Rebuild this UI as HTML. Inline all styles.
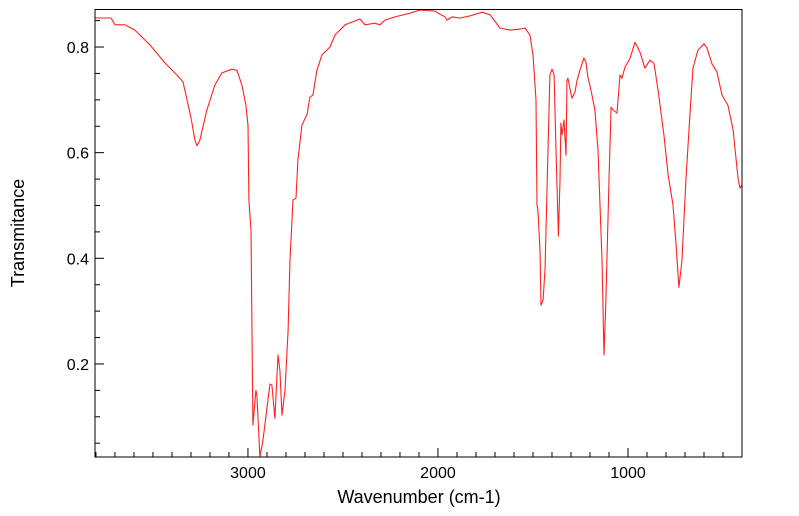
<!DOCTYPE html>
<html><head><meta charset="utf-8"><style>
html,body{margin:0;padding:0;background:#fff;width:799px;height:516px;overflow:hidden}
svg text{font-family:"Liberation Sans",sans-serif;fill:#000}
</style></head><body>
<svg id="chart" width="799" height="516" xmlns="http://www.w3.org/2000/svg">
<g id="axes"></g>
<path id="series" fill="none" stroke="#ff2020" stroke-width="1.1" stroke-linejoin="round"/>
<rect x="95" y="9.5" width="647" height="447.5" fill="none" stroke="#000" stroke-width="1"/>
<text x="419" y="503" font-size="18" text-anchor="middle">Wavenumber (cm-1)</text>
<text transform="translate(24,233) rotate(-90)" font-size="18" text-anchor="middle">Transmitance</text>
</svg>
<script>
const wavenumbers = [3805,3721,3700,3647,3595,3516,3437,3374,3342,3321,3300,3279,3268,3253,3216,3174,3137,3084,3058,3032,3011,3000,2995,2984,2974,2958,2953,2937,2921,2895,2884,2874,2858,2842,2832,2821,2805,2789,2779,2763,2747,2737,2716,2689,2674,2658,2637,2611,2568,2542,2489,2411,2384,2332,2305,2279,2226,2147,2095,2016,1989,1963,1953,1926,1884,1832,1768,1726,1674,1621,1568,1542,1516,1500,1484,1479,1474,1463,1458,1447,1437,1421,1411,1400,1389,1379,1368,1366,1358,1353,1347,1337,1326,1321,1316,1295,1279,1268,1253,1232,1221,1211,1195,1174,1158,1137,1126,1116,1100,1089,1079,1058,1042,1032,1016,989,963,937,911,884,863,842,811,789,763,747,732,716,695,674,658,632,600,584,558,532,505,474,447,421,411,400];
const transmittance = [0.855,0.855,0.842,0.842,0.832,0.804,0.770,0.747,0.734,0.700,0.666,0.624,0.613,0.624,0.681,0.728,0.751,0.758,0.756,0.728,0.690,0.652,0.510,0.453,0.084,0.150,0.141,0.023,0.056,0.131,0.162,0.160,0.097,0.217,0.188,0.103,0.150,0.264,0.397,0.510,0.514,0.586,0.652,0.673,0.705,0.709,0.756,0.785,0.800,0.823,0.842,0.853,0.842,0.845,0.842,0.851,0.857,0.864,0.870,0.868,0.862,0.857,0.851,0.857,0.855,0.859,0.866,0.861,0.836,0.832,0.834,0.836,0.823,0.785,0.700,0.501,0.491,0.416,0.311,0.321,0.378,0.605,0.747,0.758,0.747,0.605,0.463,0.442,0.548,0.656,0.634,0.662,0.595,0.737,0.741,0.703,0.715,0.737,0.756,0.779,0.771,0.743,0.719,0.681,0.605,0.397,0.217,0.321,0.548,0.686,0.681,0.675,0.747,0.741,0.762,0.779,0.809,0.790,0.760,0.775,0.769,0.719,0.634,0.558,0.501,0.425,0.345,0.397,0.548,0.671,0.760,0.794,0.806,0.798,0.768,0.753,0.709,0.690,0.643,0.552,0.533,0.539];
const xTickLabels = [3000,2000,1000];
const yTickLabels = [0.2,0.4,0.6,0.8];

const L=95,R=742,T=9.5,B=457;
const xDomain=[3805,400], yDomain=[0.8+37.5/528, 0.2-93/528];
function xs(v){return L+(v-xDomain[0])/(xDomain[1]-xDomain[0])*(R-L);}
function ys(v){return T+(v-yDomain[0])/(yDomain[1]-yDomain[0])*(B-T);}
const NS="http://www.w3.org/2000/svg";
const axes=document.getElementById('axes');
function line(x1,y1,x2,y2){const l=document.createElementNS(NS,'line');l.setAttribute('x1',x1);l.setAttribute('y1',y1);l.setAttribute('x2',x2);l.setAttribute('y2',y2);l.setAttribute('stroke','#000');l.setAttribute('stroke-width','1');axes.appendChild(l);return l;}
for(let w=3800;w>=400;w-=100){
  const x=xs(w);const major=xTickLabels.includes(w);
  const t=line(x,B,x,B-(major?9:5));
  
  
}
for(let i=1;i<=17;i++){
  const v=i*0.05;const y=ys(v);const major=yTickLabels.some(m=>Math.abs(m-v)<1e-6);
  const t=line(L,y,L+(major?9:5),y);
  
  
}
xTickLabels.forEach(w=>{const t=document.createElementNS(NS,'text');t.setAttribute('x',xs(w));t.setAttribute('y',B+21);t.setAttribute('font-size','16');t.setAttribute('text-anchor','middle');t.textContent=w;


axes.appendChild(t);});
yTickLabels.forEach(v=>{const t=document.createElementNS(NS,'text');t.setAttribute('x',L-6);t.setAttribute('y',ys(v)+6);t.setAttribute('font-size','16');t.setAttribute('text-anchor','end');t.textContent=v.toFixed(1);


axes.appendChild(t);});
let d='';
wavenumbers.forEach((w,i)=>{let y=Math.min(ys(transmittance[i]),B);d+=(i?'L':'M')+xs(w).toFixed(1)+','+y.toFixed(1);});
document.getElementById('series').setAttribute('d',d);
</script>
</body></html>
